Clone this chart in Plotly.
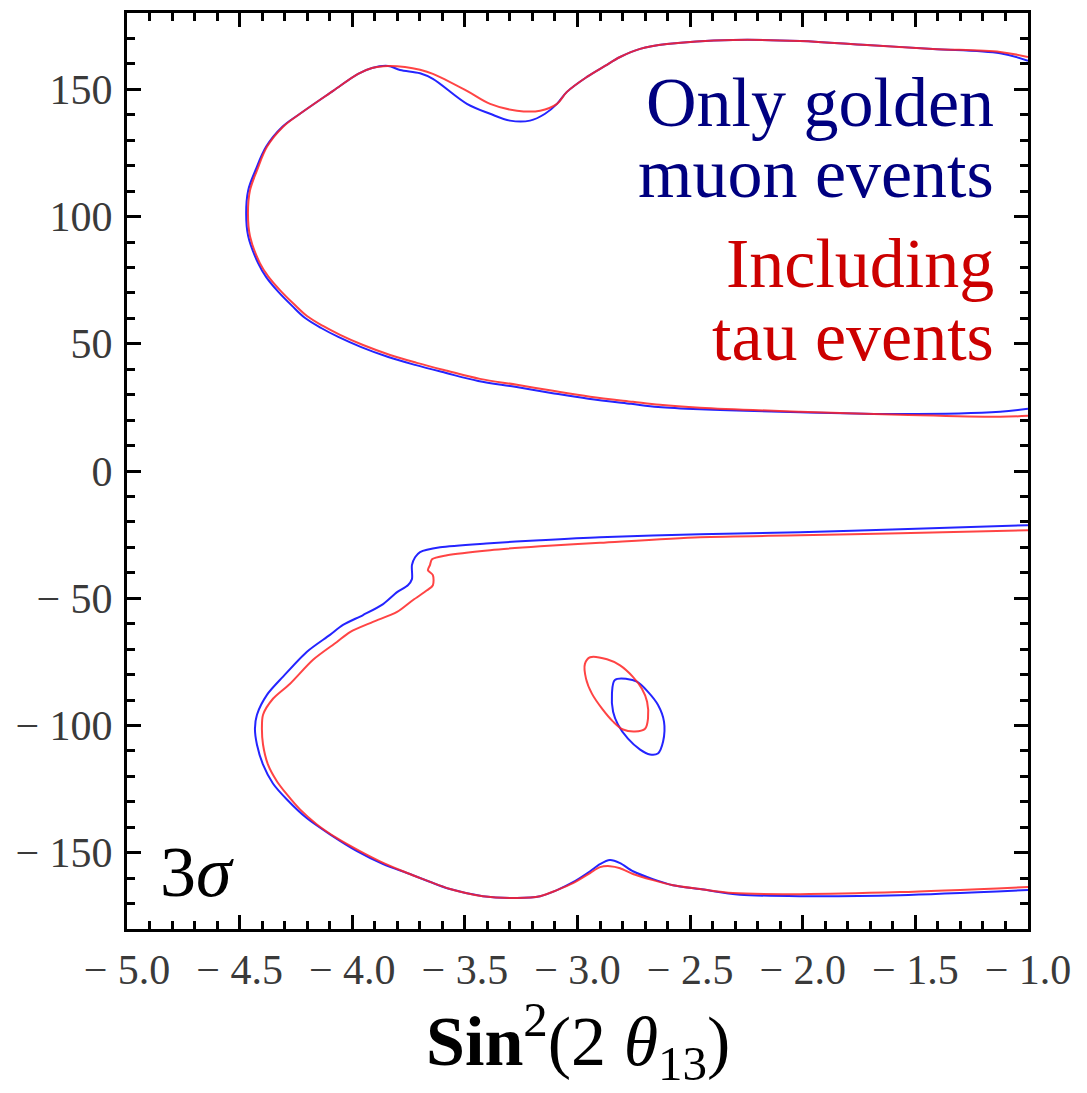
import plotly.graph_objects as go

# ---- 3 sigma allowed regions in the (log10 sin^2 2theta13, delta_CP) plane ----
# "gold" = golden muon events only, "tau" = including tau events

# upper region (delta > 0)
upper_gold_x = [-1.0, -1.124, -1.422, -1.715, -2.012, -2.310, -2.603, -2.722, -2.811, -2.878,
                -2.958, -3.047, -3.091, -3.144, -3.211, -3.300, -3.388, -3.491, -3.642, -3.699,
                -3.788, -3.841, -3.912, -3.974, -4.085, -4.232, -4.310, -4.382, -4.430, -4.462,
                -4.471, -4.462, -4.418, -4.382, -4.329, -4.267, -4.209, -4.138, -4.062, -3.960,
                -3.840, -3.721, -3.587, -3.441, -3.277, -3.117, -2.952, -2.762, -2.642, -2.456,
                -2.012, -1.568, -1.124, -1.0]
upper_gold_y = [161.2, 164.2, 165.9, 167.4, 169.0, 169.4, 167.8, 165.9, 162.7, 159.2,
                154.9, 149.0, 144.3, 140.4, 137.7, 137.7, 140.4, 144.3, 154.1, 156.3,
                157.6, 159.2, 158.4, 156.1, 149.4, 140.4, 135.3, 127.5, 118.1, 110.3,
                101.3, 92.3, 81.7, 76.2, 70.5, 64.9, 60.1, 56.2, 52.7, 48.7,
                44.8, 41.7, 38.6, 35.4, 33.1, 30.7, 28.4, 26.4, 25.2, 24.3,
                23.1, 22.4, 23.3, 24.5]

upper_tau_x = [-1.0, -1.124, -1.422, -1.715, -2.012, -2.310, -2.603, -2.722, -2.811, -2.878,
               -2.958, -3.047, -3.091, -3.166, -3.269, -3.388, -3.491, -3.642, -3.699, -3.766,
               -3.841, -3.912, -3.974, -4.085, -4.232, -4.307, -4.378, -4.423, -4.454, -4.463,
               -4.454, -4.410, -4.374, -4.321, -4.259, -4.201, -4.130, -4.054, -3.952, -3.832,
               -3.713, -3.579, -3.433, -3.269, -3.109, -2.944, -2.754, -2.634, -2.456, -2.012,
               -1.568, -1.124, -1.0]
upper_tau_y = [162.7, 164.7, 165.9, 167.4, 169.0, 169.4, 167.8, 165.9, 162.7, 159.2,
               154.9, 149.0, 144.3, 141.6, 141.6, 144.3, 149.4, 156.1, 157.7, 158.8,
               159.2, 158.4, 156.1, 149.4, 140.4, 135.3, 127.5, 118.1, 110.3, 101.3,
               92.3, 81.7, 76.6, 71.1, 65.6, 60.9, 57.0, 53.5, 49.5, 45.6,
               42.5, 39.4, 36.2, 33.9, 31.5, 29.2, 27.2, 26.0, 24.9, 23.3,
               22.1, 21.3, 21.7]

# lower region (delta < 0)
lower_gold_x = [-1.0, -1.568, -2.012, -2.456, -2.900, -3.166, -3.388, -3.610, -3.699, -3.721,
                -3.735, -3.735, -3.753, -3.801, -3.863, -3.952, -4.041, -4.099, -4.201, -4.307,
                -4.378, -4.423, -4.432, -4.423, -4.396, -4.352, -4.290, -4.201, -4.099, -3.979,
                -3.863, -3.744, -3.566, -3.420, -3.269, -3.166, -3.091, -3.020, -2.944, -2.900,
                -2.856, -2.811, -2.754, -2.665, -2.576, -2.456, -2.279, -2.012, -1.568, -1.0]
lower_gold_y = [-21.3, -22.9, -24.1, -24.9, -26.0, -27.2, -28.4, -30.0, -31.9, -33.9,
                -37.0, -42.5, -44.9, -47.6, -52.3, -56.6, -60.5, -64.4, -71.0, -80.8,
                -87.9, -95.8, -101.3, -107.6, -115.4, -122.8, -129.1, -136.5, -142.8, -149.4,
                -154.5, -158.4, -164.3, -167.1, -167.8, -167.1, -164.7, -161.6, -157.3, -154.5,
                -152.9, -154.1, -157.3, -160.4, -162.8, -164.3, -166.5, -167.1, -166.7, -164.7]

lower_tau_x = [-1.0, -1.568, -2.012, -2.456, -2.900, -3.166, -3.388, -3.579, -3.646, -3.655,
               -3.664, -3.642, -3.642, -3.668, -3.730, -3.801, -3.908, -4.010, -4.068, -4.174,
               -4.276, -4.352, -4.396, -4.401, -4.396, -4.374, -4.334, -4.290, -4.232, -4.157,
               -4.068, -3.966, -3.877, -3.775, -3.686, -3.566, -3.420, -3.269, -3.166, -3.091,
               -3.020, -2.944, -2.900, -2.856, -2.811, -2.754, -2.665, -2.576, -2.456, -2.310,
               -2.012, -1.568, -1.0]
lower_tau_y = [-23.3, -24.5, -25.3, -26.0, -28.2, -29.6, -31.1, -33.1, -34.7, -37.0,
               -39.0, -40.9, -44.9, -46.9, -50.7, -55.4, -59.3, -63.3, -67.2, -74.2,
               -83.6, -89.5, -95.8, -101.3, -107.6, -115.4, -122.0, -127.1, -133.0, -138.9,
               -144.3, -149.4, -153.4, -157.3, -160.4, -164.3, -167.1, -167.8, -167.1, -164.7,
               -162.0, -158.0, -155.7, -155.3, -156.1, -158.4, -160.8, -162.8, -164.3, -165.9,
               -166.3, -165.5, -163.5]

# small closed islands inside the lower region
island_gold_x = [-2.834, -2.780, -2.736, -2.687, -2.643, -2.616, -2.620, -2.643, -2.678, -2.722,
                 -2.776, -2.820, -2.842, -2.847, -2.834]
island_gold_y = [-82.1, -81.7, -82.8, -86.8, -91.9, -98.5, -106.3, -111.0, -111.4, -109.5,
                 -105.2, -99.7, -94.6, -87.5, -82.1]

island_tau_x = [-2.944, -2.869, -2.811, -2.754, -2.714, -2.691, -2.687, -2.700, -2.745, -2.798,
                -2.842, -2.891, -2.936, -2.962, -2.967, -2.944]
island_tau_y = [-73.2, -74.0, -76.4, -80.9, -85.6, -90.7, -97.3, -101.3, -102.4, -101.6,
                -98.5, -93.4, -87.5, -81.7, -75.8, -73.2]

x_tick_vals = [-5.0, -4.5, -4.0, -3.5, -3.0, -2.5, -2.0, -1.5, -1.0]
x_tick_text = ["\u2212 5.0", "\u2212 4.5", "\u2212 4.0", "\u2212 3.5", "\u2212 3.0",
               "\u2212 2.5", "\u2212 2.0", "\u2212 1.5", "\u2212 1.0"]
y_tick_vals = [-150, -100, -50, 0, 50, 100, 150]
y_tick_text = ["\u2212 150", "\u2212 100", "\u2212 50", "0", "50", "100", "150"]

GOLD_COLOR = "#2424ff"
TAU_COLOR = "#ff2424"

fig = go.Figure()

gold_sets = [(upper_gold_x, upper_gold_y, 1.0), (lower_gold_x, lower_gold_y, 0.8),
             (island_gold_x, island_gold_y, 1.0)]
tau_sets = [(upper_tau_x, upper_tau_y, 1.0), (lower_tau_x, lower_tau_y, 0.8),
            (island_tau_x, island_tau_y, 1.0)]

for xs, ys, sm in gold_sets:
    fig.add_trace(go.Scatter(x=xs, y=ys, mode="lines",
                             line=dict(color=GOLD_COLOR, width=2, shape="spline", smoothing=sm),
                             showlegend=False, hoverinfo="skip"))
for xs, ys, sm in tau_sets:
    fig.add_trace(go.Scatter(x=xs, y=ys, mode="lines", opacity=0.85,
                             line=dict(color=TAU_COLOR, width=2, shape="spline", smoothing=sm),
                             showlegend=False, hoverinfo="skip"))

tick_font = dict(family="Liberation Serif", size=42, color="#3a3a3a")
text_font = "Liberation Serif"

x_minor = [round(-5.0 + 0.1 * i, 2) for i in range(41)]
y_minor = list(range(-180, 181, 10))

common_axis = dict(
    showline=True, linewidth=3, linecolor="black", mirror="ticks",
    ticks="inside", ticklen=14, tickwidth=2.5, tickcolor="black",
    showgrid=False, zeroline=False, tickfont=tick_font,
)

fig.update_xaxes(range=[-5, -1], tickmode="array", tickvals=x_tick_vals, ticktext=x_tick_text,
                 minor=dict(tickmode="array", tickvals=x_minor, ticks="inside", ticklen=8,
                            tickwidth=2.5, tickcolor="black", showgrid=False),
                 ticklabelstandoff=2, **common_axis)
fig.update_yaxes(range=[-180, 180], tickmode="array", tickvals=y_tick_vals, ticktext=y_tick_text,
                 minor=dict(tickmode="array", tickvals=y_minor, ticks="inside", ticklen=8,
                            tickwidth=2.5, tickcolor="black", showgrid=False),
                 ticklabelstandoff=3, **common_axis)

W, H = 1087, 1093
L, R, T, B = 127, 59, 10, 164
plot_w, plot_h = W - L - R, H - T - B


def px_to_paper(px, py):
    return (px - L) / plot_w, (H - B - py) / plot_h


annotations = []
labels = [
    ("Only golden", "#000080", 124),
    ("muon events", "#000080", 195),
    ("Including", "#cc0000", 285),
    ("tau events", "#cc0000", 358),
]
for text, color, baseline in labels:
    ax_, ay_ = px_to_paper(996, baseline - 0.34 * 70)
    annotations.append(dict(text=text, x=ax_, y=ay_, xref="paper", yref="paper",
                            xanchor="right", yanchor="middle", showarrow=False,
                            font=dict(family=text_font, size=70, color=color)))

sx, sy = px_to_paper(158, 896 - 0.34 * 72)
annotations.append(dict(text="3<i>\u03c3</i>", x=sx, y=sy, xref="paper", yref="paper",
                        xanchor="left", yanchor="middle", showarrow=False,
                        font=dict(family=text_font, size=72, color="black")))

tx, ty = px_to_paper(578, 1042)
annotations.append(dict(text="<b>Sin</b><sup>2</sup>(2 <i>\u03b8</i><sub>13</sub>)",
                        x=tx, y=ty, xref="paper", yref="paper",
                        xanchor="center", yanchor="middle", showarrow=False,
                        font=dict(family=text_font, size=70, color="black")))

fig.update_layout(
    width=W, height=H,
    margin=dict(l=L, r=R, t=T, b=B),
    paper_bgcolor="white", plot_bgcolor="white",
    annotations=annotations,
    showlegend=False,
)

fig.write_html("out.html")
